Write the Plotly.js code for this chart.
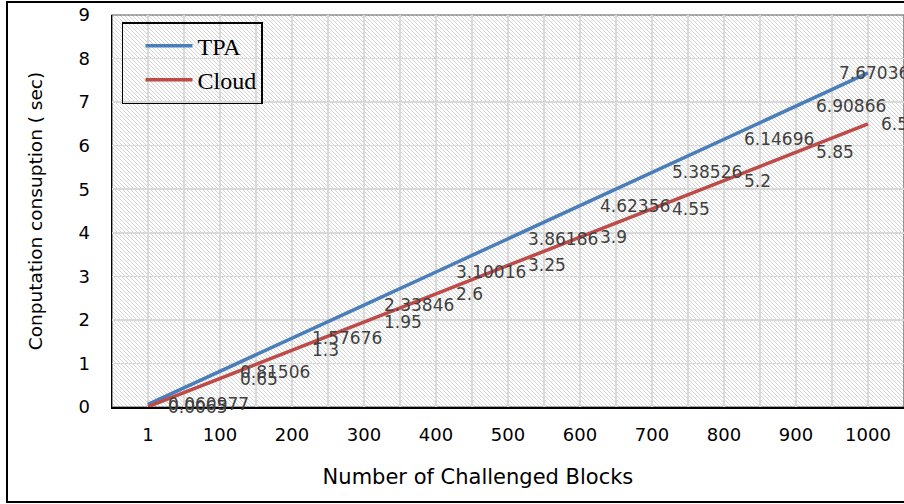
<!DOCTYPE html>
<html>
<head>
<meta charset="utf-8">
<script src="https://cdn.plot.ly/plotly-3.0.1.min.js"></script>
<style>
  html, body { margin: 0; padding: 0; overflow: hidden; background: #fff; }
  #wrap { position: relative; width: 904px; height: 504px; overflow: hidden; }
  #chart { position: absolute; left: 0; top: 0; width: 950px; height: 504px; }
  #frame { position: absolute; left: 6px; top: 1px; width: 960px; height: 498px;
           border: 2px solid #000; pointer-events: none; }
</style>
</head>
<body>
<div id="wrap">
  <div id="chart"></div>
  <div id="frame"></div>
</div>
<script>
// ---- data ----
const categories = ['1', '100', '200', '300', '400', '500', '600', '700', '800', '900', '1000'];
const tpaValues = [0.060977, 0.81506, 1.57676, 2.33846, 3.10016, 3.86186, 4.62356, 5.38526, 6.14696, 6.90866, 7.67036];
const cloudValues = [0.0065, 0.65, 1.3, 1.95, 2.6, 3.25, 3.9, 4.55, 5.2, 5.85, 6.5];
const seriesNames = ['TPA', 'Cloud'];
const yTickValues = [0, 1, 2, 3, 4, 5, 6, 7, 8, 9];
const xTitle = 'Number of Challenged Blocks';
const yTitle = 'Conputation consuption ( sec)';

// ---- styling ----
const W = 950, H = 504;
const M = { l: 112, r: 46, t: 15, b: 97 };
const plotW = W - M.l - M.r, plotH = H - M.t - M.b;
const idx = categories.map((c, i) => i);
const colors = ['#4A7EBB', '#BE4B48'];
const lastLabelShift = [-31, 11];   // Excel nudged the last labels to fit
const NB = '\u00a0';
// the reference centres its axis titles on the whole chart area, not the plot area
const xTitleText = xTitle + NB.repeat(9) + '\u200b';
const yTitleText = NB.repeat(6) + yTitle;

// hatched plot background as an inline SVG image
let hatchLines = '';
for (let k = -plotH; k < plotW + 4; k += 4) {
  hatchLines += '<line x1="' + k + '" y1="0" x2="' + (k + plotH) + '" y2="' + plotH + '"/>';
}
const hatchSvg =
  '<svg xmlns="http://www.w3.org/2000/svg" width="' + plotW + '" height="' + plotH +
  '" viewBox="0 0 ' + plotW + ' ' + plotH + '" preserveAspectRatio="none">' +
  '<rect width="100%" height="100%" fill="#fff"/>' +
  '<g stroke="#d3d3d3" stroke-width="1">' + hatchLines + '</g></svg>';
const hatchUri = 'data:image/svg+xml;charset=utf-8,' + encodeURIComponent(hatchSvg);

const seriesValues = [tpaValues, cloudValues];

const traces = seriesValues.map((vals, s) => ({
  type: 'scatter',
  mode: 'lines',
  name: seriesNames[s],
  x: idx,
  y: vals,
  line: { color: colors[s], width: 3.5 },
  hoverinfo: 'skip'
}));

const annotations = [];
seriesValues.forEach((vals, s) => {
  vals.forEach((v, i) => {
    annotations.push({
      x: idx[i], y: v, xref: 'x', yref: 'y',
      text: String(v),
      showarrow: false,
      xanchor: 'left', yanchor: 'middle',
      xshift: i === vals.length - 1 ? lastLabelShift[s] : 18,
      font: { family: 'DejaVu Sans', size: 17, color: '#404040' }
    });
  });
});

const gridColor = '#d9d9d9';

const layout = {
  width: W, height: H,
  margin: { l: M.l, r: M.r, t: M.t, b: M.b, pad: 0 },
  paper_bgcolor: '#ffffff',
  plot_bgcolor: 'rgba(0,0,0,0)',
  showlegend: true,
  legend: {
    x: 0.0126, y: 0.982, xanchor: 'left', yanchor: 'top',
    bgcolor: 'rgba(0,0,0,0)', bordercolor: '#000', borderwidth: 1.5,
    font: { family: 'Liberation Serif', size: 24, color: '#000' },
    itemwidth: 47, indentation: 17, tracegroupgap: 0
  },
  xaxis: {
    range: [-0.5, categories.length - 0.5],
    tickmode: 'array', tickvals: idx, ticktext: categories,
    ticks: '', ticklabelstandoff: 10,
    tickfont: { family: 'DejaVu Sans', size: 18, color: '#000' },
    showgrid: true, gridcolor: gridColor, gridwidth: 1.5,
    minor: { tickmode: 'linear', tick0: -0.5, dtick: 1, showgrid: true, gridcolor: gridColor, gridwidth: 1.5, ticks: '' },
    zeroline: false,
    showline: true, linecolor: '#000', linewidth: 2,
    title: { text: xTitleText, font: { family: 'DejaVu Sans', size: 21, color: '#000' }, standoff: 26 }
  },
  yaxis: {
    range: [0, 9],
    tickmode: 'array', tickvals: yTickValues, ticktext: yTickValues.map(String),
    ticks: '', ticklabelstandoff: 17,
    tickfont: { family: 'DejaVu Sans', size: 18, color: '#000' },
    showgrid: true, gridcolor: gridColor, gridwidth: 1.5,
    zeroline: false,
    showline: true, linecolor: '#000', linewidth: 1.5,
    title: { text: yTitleText, font: { family: 'DejaVu Sans', size: 18.5, color: '#000' }, standoff: 31 }
  },
  shapes: [{
    type: 'rect', xref: 'paper', yref: 'paper', x0: 0, x1: 1, y0: 0, y1: 1,
    line: { color: '#595959', width: 1.2 }, layer: 'below'
  }],
  images: [{
    source: hatchUri, xref: 'paper', yref: 'paper',
    x: 0, y: 1, sizex: 1, sizey: 1, xanchor: 'left', yanchor: 'top',
    sizing: 'stretch', layer: 'below'
  }],
  annotations: annotations
};

Plotly.newPlot('chart', traces, layout, { staticPlot: true, displayModeBar: false });
</script>
</body>
</html>
